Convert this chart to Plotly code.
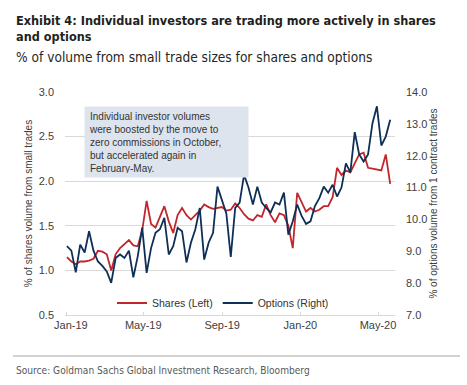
import pandas as pd
import plotly.graph_objects as go

# ---- data ----
start_date = "2019-01-02"
end_date = "2020-05-20"
n_points = 74
dates = pd.date_range(start_date, end_date, periods=n_points)

shares_pct = [
    1.15, 1.10, 1.07, 1.10, 1.10, 1.11, 1.13, 1.22, 1.21, 1.18,
    1.00, 1.18, 1.25, 1.30, 1.34, 1.28, 1.27, 1.45, 1.78, 1.52,
    1.48, 1.60, 1.72, 1.55, 1.42, 1.62, 1.70, 1.62, 1.57, 1.62,
    1.67, 1.74, 1.71, 1.69, 1.70, 1.71, 1.67, 1.68, 1.75, 1.70,
    1.63, 1.58, 1.56, 1.62, 1.60, 1.74, 1.62, 1.54, 1.64, 1.62,
    1.50, 1.25, 1.87, 1.76, 1.66, 1.70, 1.66, 1.68, 1.72, 1.72,
    1.82, 2.15, 2.07, 2.12, 2.10, 2.20, 2.30, 2.32, 2.15, 2.14,
    2.13, 2.12, 2.30, 1.97,
]

options_pct = [
    9.16, 9.02, 8.34, 9.21, 8.96, 9.63, 9.02, 8.68, 8.54, 8.37,
    8.01, 8.79, 8.90, 8.79, 9.02, 8.18, 8.85, 9.74, 8.32, 9.10,
    9.58, 9.69, 10.05, 8.90, 9.16, 9.74, 9.63, 8.65, 9.27, 9.69,
    10.36, 8.74, 9.27, 9.58, 11.03, 10.61, 10.19, 8.82, 10.36, 10.53,
    11.40, 11.00, 10.47, 11.03, 10.53, 10.36, 10.22, 10.53, 10.47, 10.84,
    9.52, 9.94, 10.47, 10.11, 9.86, 9.94, 10.42, 10.67, 11.03, 10.84,
    11.09, 10.72, 11.00, 11.76, 11.48, 12.74, 12.04, 11.82, 12.04, 13.02,
    13.55, 12.32, 12.60, 13.13,
]

tick_dates = ["2019-01-01", "2019-05-01", "2019-09-01", "2020-01-01", "2020-05-01"]
tick_labels = ["\u00a0\u00a0\u00a0Jan-19", "May-19", "Sep-19", "Jan-20", "May-20"]

series_names = ["Shares (Left)", "Options (Right)"]
colors = ["#c0272d", "#0e2f56"]

title_text = "Exhibit 4: Individual investors are trading more actively in shares<br>and options"
subtitle_text = "% of volume from small trade sizes for shares and options"
note_text = ("Individual investor volumes<br>were boosted by the move to<br>"
             "zero commissions in October,<br>but accelerated again in<br>February-May.")
source_text = "Source: Goldman Sachs Global Investment Research, Bloomberg"

NARROW = "DejaVu Sans Condensed, Liberation Sans Narrow, sans-serif"
REG = "Liberation Sans, Arial, sans-serif"

fig = go.Figure()
fig.add_trace(go.Scatter(x=dates, y=shares_pct, name=series_names[0], mode="lines",
                         line=dict(color=colors[0], width=1.8)))
fig.add_trace(go.Scatter(x=dates, y=options_pct, name=series_names[1], mode="lines",
                         yaxis="y2", line=dict(color=colors[1], width=1.8)))

W_PLOT = 467 - 65 - 72
H_PLOT = 385 - 92 - 70
def px_x(px):
    return (px - 65) / W_PLOT
def px_y(py):
    return (385 - 70 - py) / H_PLOT

fig.update_layout(
    width=467, height=385,
    margin=dict(l=65, r=72, t=92, b=70),
    paper_bgcolor="white", plot_bgcolor="white",
    font=dict(family=REG, size=11, color="#404040"),
    showlegend=True,
    legend=dict(orientation="h", x=px_x(112), xanchor="left", y=px_y(303), yanchor="middle",
                bgcolor="rgba(0,0,0,0)", font=dict(family=REG, size=10.5, color="#333333"),
                itemwidth=30, tracegroupgap=0),
    xaxis=dict(type="date", range=["2018-12-30", "2020-05-27 12:00"],
               tickvals=tick_dates, ticktext=tick_labels,
               showgrid=False, zeroline=False, showline=True, linecolor="#d9d9d9",
               ticks="inside", ticklen=3, tickcolor="#d9d9d9",
               tickfont=dict(size=11, color="#404040")),
    yaxis=dict(range=[0.5, 3.0], dtick=0.5, tickformat=".1f",
               showgrid=True, gridcolor="#d9d9d9", gridwidth=1, zeroline=False,
               showline=False, ticks="", ticklabelstandoff=10,
               tickfont=dict(size=11, color="#404040"),
               title=dict(text="% of shares volume from small trades",
                          font=dict(size=10, color="#404040"), standoff=4)),
    yaxis2=dict(range=[7.0, 14.0], dtick=1, tickformat=".1f", overlaying="y", side="right",
                showgrid=False, zeroline=False, showline=False, ticks="", ticklabelstandoff=10,
                tickfont=dict(size=11, color="#404040"),
                title=dict(text="% of options volume from 1 contract trades",
                           font=dict(size=10, color="#404040"), standoff=3)),
)

annotations = [
    dict(text="<b>" + title_text + "</b>", xref="paper", yref="paper", x=px_x(14), y=px_y(28),
         xanchor="left", yanchor="middle", align="left", showarrow=False,
         font=dict(family=NARROW, size=12.6, color="#231f20")),
    dict(text=subtitle_text, xref="paper", yref="paper", x=px_x(14), y=px_y(56.5),
         xanchor="left", yanchor="middle", align="left", showarrow=False,
         font=dict(family=NARROW, size=13.6, color="#262626")),
    dict(text=note_text, xref="paper", yref="paper", x=px_x(84), y=px_y(106),
         xanchor="left", yanchor="top", align="left", valign="middle", showarrow=False,
         bgcolor="#dde4ee", borderpad=4, width=155, height=62,
         font=dict(family=REG, size=10, color="#333333")),
    dict(text=source_text, xref="paper", yref="paper", x=px_x(14), y=px_y(370),
         xanchor="left", yanchor="middle", align="left", showarrow=False,
         font=dict(family=NARROW, size=10.1, color="#595959")),
]
fig.update_layout(annotations=annotations)

fig.add_shape(type="line", xref="paper", yref="paper",
              x0=px_x(13), x1=px_x(460), y0=px_y(356), y1=px_y(356),
              line=dict(color="#a6a6a6", width=1))

fig.write_html("out.html", config={"displayModeBar": False},
               post_script="document.body.style.margin='0';")
